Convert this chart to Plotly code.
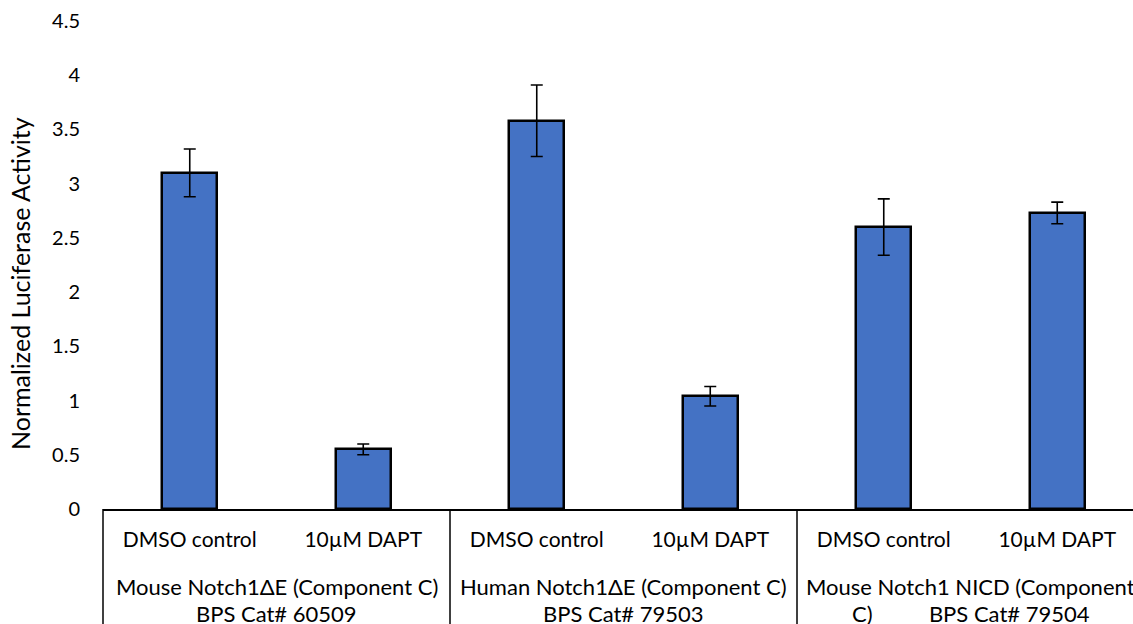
import plotly.graph_objects as go

# ---- data ----
conditions = ["DMSO control", "10µM DAPT", "DMSO control", "10µM DAPT", "DMSO control", "10µM DAPT"]
values = [3.10, 0.55, 3.58, 1.04, 2.60, 2.73]
errors = [0.22, 0.05, 0.33, 0.09, 0.26, 0.10]
NB = "\u00a0"
groups = [
    "Mouse Notch1ΔE (Component C)<br>BPS Cat# 60509",
    "Human Notch1ΔE (Component C)<br>BPS Cat# 79503",
    "Mouse Notch1 NICD (Component<br>C)" + NB * 10 + "BPS Cat# 79504",
]
y_title = "Normalized Luciferase Activity"

FONT = "Lato"
W, H = 1133, 624
ML, MR, MT, MB = 103, 0, 21, 115
cat_px = 173.5
x_pos = list(range(len(values)))
x_min = -0.5
x_max = x_min + (W - ML - MR) / cat_px
plot_w = W - ML - MR
plot_h = H - MT - MB

fig = go.Figure()
fig.add_trace(go.Bar(
    x=x_pos, y=values, width=0.317,
    marker=dict(color="#4472C4", line=dict(color="black", width=2.5)),
    error_y=dict(type="data", array=errors, visible=True, color="black", thickness=1.6, width=6),
    showlegend=False,
))

def to_paper(v):
    return (v - x_min) / (x_max - x_min)

# group dividers (at category boundaries) and group labels
n_per_group = 2
line_tops = [62, 89]  # px below the axis line for each text line
for gi, label in enumerate(groups):
    start = gi * n_per_group - 0.5
    fig.add_shape(type="line", xref="paper", yref="paper",
                  x0=to_paper(start), x1=to_paper(start), y0=0, y1=-(MB + 5) / plot_h,
                  line=dict(color="black", width=1.5))
    center = gi * n_per_group + (n_per_group - 1) / 2
    for li, line in enumerate(label.split("<br>")):
        fig.add_annotation(x=center, xref="x", y=-line_tops[li] / plot_h, yref="paper",
                           yanchor="top", xanchor="center", showarrow=False,
                           text=line, font=dict(family=FONT, size=22, color="black"),
                           align="center")

# y-axis title
fig.add_annotation(x=-(ML - 20) / plot_w, xref="paper", y=(509 - 284) / plot_h, yref="paper",
                   xanchor="center", yanchor="middle", showarrow=False, textangle=-90,
                   text=y_title, font=dict(family=FONT, size=25, color="black"))

fig.update_layout(
    width=W, height=H,
    margin=dict(l=ML, r=MR, t=MT, b=MB),
    paper_bgcolor="white", plot_bgcolor="white",
    font=dict(family=FONT, color="black"),
    bargap=0,
)
fig.update_xaxes(
    range=[x_min, x_max], tickvals=x_pos, ticktext=conditions,
    ticks="", showgrid=False, zeroline=False,
    showline=True, linecolor="black", linewidth=2,
    tickfont=dict(family=FONT, size=21, color="black"),
    ticklabelstandoff=11,
)
fig.update_yaxes(
    range=[0, 4.5], dtick=0.5, showgrid=False, zeroline=False, showline=False,
    ticks="", tickfont=dict(family=FONT, size=20, color="black"),
    ticklabelstandoff=22,
)

fig.write_html("out.html", config={"displayModeBar": False},
               post_script="document.body.style.margin='0';document.body.style.overflow='hidden';")
